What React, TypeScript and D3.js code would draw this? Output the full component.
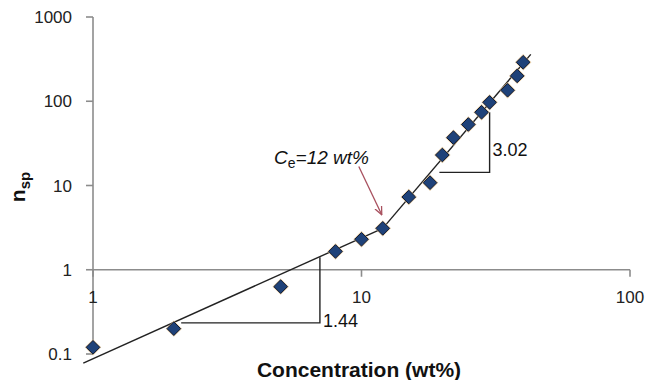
import * as d3 from "d3"

// measured points: concentration (wt%) vs specific viscosity
const conc = [1, 2, 5, 8, 10, 12, 15, 18, 20, 22, 25, 28, 30, 35, 38, 40]
const nsp = [0.12, 0.2, 0.63, 1.65, 2.3, 3.1, 7.3, 10.8, 23, 37, 53, 74, 97, 135, 200, 290]

// fitted power-law segments (dilute / semi-dilute)
const fitLow: [number, number][] = [[0.92, 0.078], [12, 3.1]]
const fitHigh: [number, number][] = [[12, 3.1], [42.7, 360]]

// slope triangles
const triLow: [number, number][] = [[2.13, 0.234], [7, 0.234], [7, 1.41]]
const triHigh: [number, number][] = [[19.5, 14.3], [30, 14.3], [30, 74]]
const slopeLabels = ["1.44", "3.02"]

const xTicks = [1, 10, 100]
const yTicks = [0.1, 1, 10, 100, 1000]

// Ce arrow: from label to the knee point
const arrowFrom: [number, number] = [9.77, 16.8]
const arrowTo: [number, number] = [11.9, 4.5]

const W = 645
const H = 380
const FONT = "'Liberation Sans', Arial, sans-serif"

export default function App() {
  const x = d3.scaleLog().domain([1, 100]).range([93, 630])
  const y = d3.scaleLog().domain([0.1, 1000]).range([354, 17])
  const line = d3
    .line<[number, number]>()
    .x((d) => x(d[0]))
    .y((d) => y(d[1]))

  const axisColor = "#8c8c8c"
  const x0 = x(1)
  const yAxisAt1 = y(1)

  return (
    <svg
      width={W}
      height={H}
      style={{ position: "absolute", left: 0, top: 0, background: "#fff" }}
      fontFamily={FONT}
    >
      <defs>
        <marker id="arr" viewBox="0 0 10 10" refX="9" refY="5" markerWidth="7" markerHeight="7" orient="auto">
          <path d="M0,1 L9,5 L0,9" fill="none" stroke="#a8505e" strokeWidth="1.4" />
        </marker>
      </defs>

      {/* y axis */}
      <line x1={x0} x2={x0} y1={y(1000)} y2={y(0.1)} stroke={axisColor} strokeWidth={1.6} />
      {yTicks.map((t) => (
        <g key={"y" + t}>
          <line x1={x0 - 7} x2={x0} y1={y(t)} y2={y(t)} stroke={axisColor} strokeWidth={1.6} />
          <text x={72} y={y(t)} dy="0.36em" textAnchor="end" fontSize={17} fill="#222">
            {t}
          </text>
        </g>
      ))}

      {/* x axis crosses at 1 */}
      <line x1={x0} x2={x(100)} y1={yAxisAt1} y2={yAxisAt1} stroke={axisColor} strokeWidth={1.6} />
      {xTicks.map((t) => (
        <g key={"x" + t}>
          <line x1={x(t)} x2={x(t)} y1={yAxisAt1} y2={yAxisAt1 + 7} stroke={axisColor} strokeWidth={1.6} />
          <text x={x(t)} y={yAxisAt1 + 33} textAnchor="middle" fontSize={17} fill="#222">
            {t}
          </text>
        </g>
      ))}

      {/* fit lines */}
      <path d={line(fitLow) ?? ""} fill="none" stroke="#222" strokeWidth={1.4} />
      <path d={line(fitHigh) ?? ""} fill="none" stroke="#222" strokeWidth={1.4} />

      {/* slope triangles */}
      <path d={line(triLow) ?? ""} fill="none" stroke="#222" strokeWidth={1.4} />
      <path d={line(triHigh) ?? ""} fill="none" stroke="#222" strokeWidth={1.4} />
      <text x={x(triLow[1][0]) + 3} y={y(triLow[1][1]) + 4} fontSize={18} fill="#111">
        {slopeLabels[0]}
      </text>
      <text x={x(triHigh[1][0]) + 3} y={(y(triHigh[1][1]) + y(triHigh[2][1])) / 2 + 14} fontSize={18} fill="#111">
        {slopeLabels[1]}
      </text>

      {/* points */}
      {conc.map((c, i) => {
        const px = x(c)
        const py = y(nsp[i])
        const diamond = (r: number) => `M${px},${py - r}L${px + r},${py}L${px},${py + r}L${px - r},${py}Z`
        return (
          <g key={i}>
            <path d={diamond(8.2)} fill="#d8b583" opacity={0.75} />
            <path d={diamond(6.8)} fill="#1f4279" stroke="#0e1b35" strokeWidth={1} />
          </g>
        )
      })}

      {/* Ce annotation */}
      <text x={369} y={164} textAnchor="end" fontSize={19} fontStyle="italic" fill="#111">
        C
        <tspan fontSize={14} dy={4} fontStyle="normal">e</tspan>
        <tspan dy={-4}>=12 wt%</tspan>
      </text>
      <line
        x1={x(arrowFrom[0])}
        y1={y(arrowFrom[1])}
        x2={x(arrowTo[0])}
        y2={y(arrowTo[1])}
        stroke="#a8505e"
        strokeWidth={1.3}
        markerEnd="url(#arr)"
      />

      {/* axis titles */}
      <text x={359} y={377} textAnchor="middle" fontSize={21} fontWeight="bold" fill="#111">
        Concentration (wt%)
      </text>
      <text transform="translate(25,187) rotate(-90)" textAnchor="middle" fontSize={21} fontWeight="bold" fill="#111">
        n<tspan fontSize={15} dy={5}>sp</tspan>
      </text>
    </svg>
  )
}
